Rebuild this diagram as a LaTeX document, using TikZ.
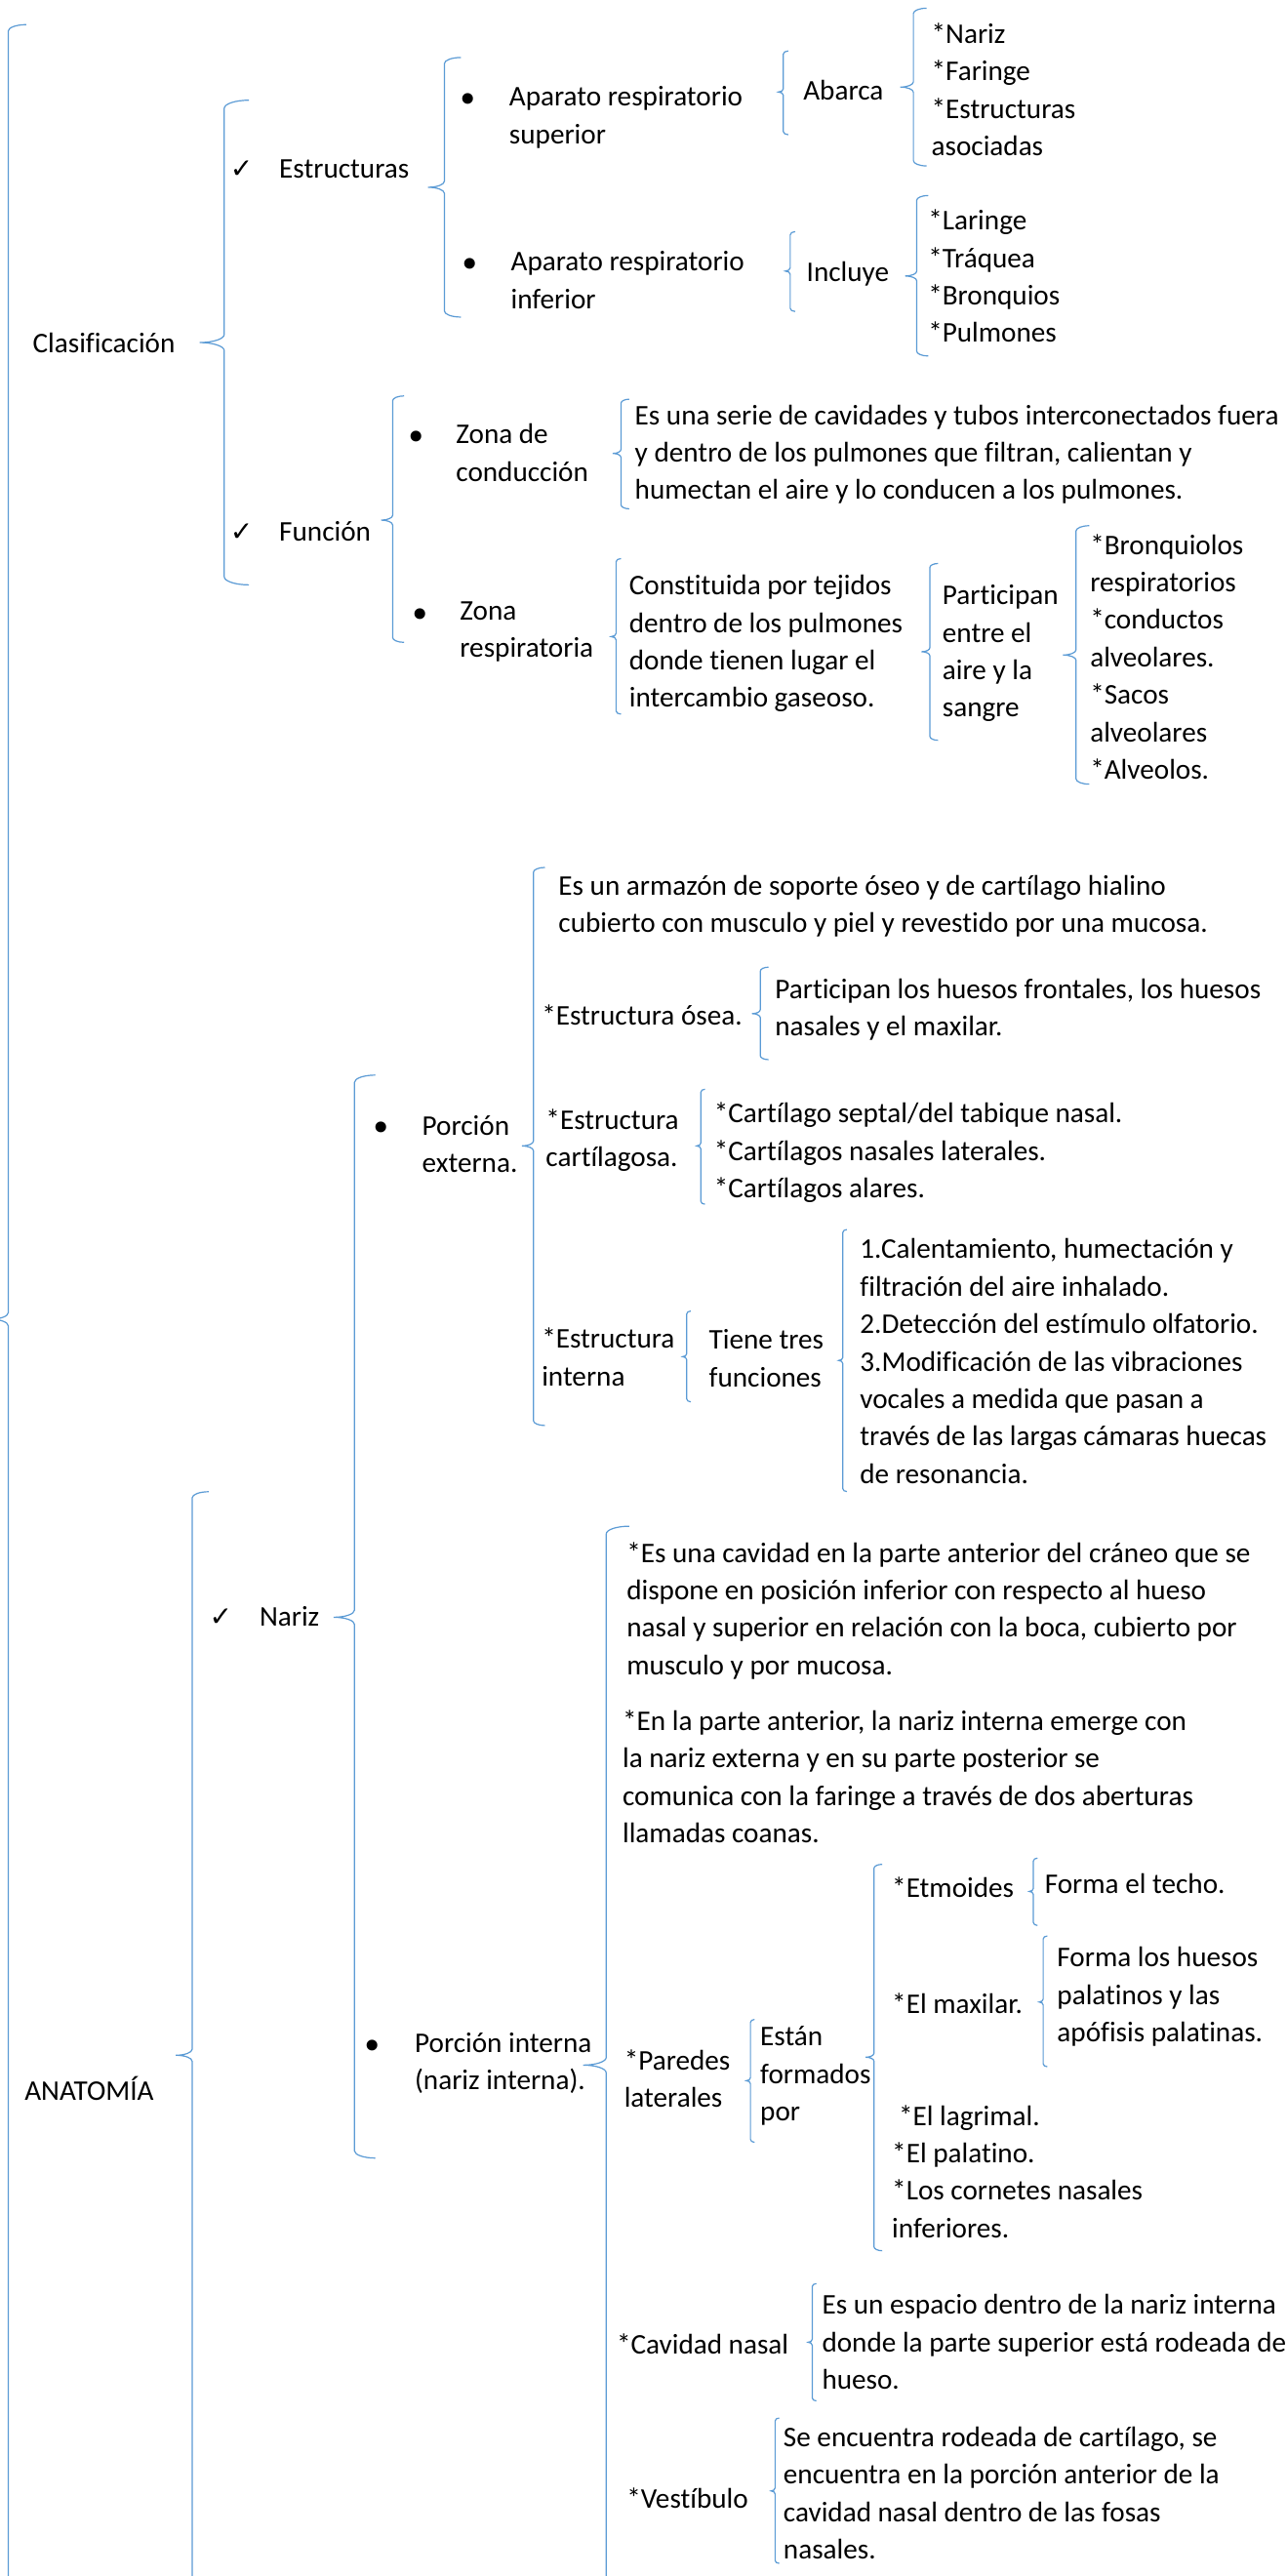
\documentclass[tikz,border=0pt]{standalone}
\usepackage{fontspec}
\setmainfont{Carlito}[Ligatures={NoCommon}]
\newfontfamily\symfont{DejaVu Sans}
\definecolor{bracecol}{RGB}{91,155,213}
\tikzset{
  x=0.84225pt, y=-0.84225pt,
  txt/.style={anchor=north west, inner sep=0pt, outer sep=0pt, align=left, yshift=10pt,
    font=\fontsize{14.6pt}{19.2pt}\selectfont, execute at begin node={\rule{0pt}{12pt}}},
  bul/.style={anchor=base, inner sep=0pt, yshift=-3.5pt, font=\symfont\fontsize{19pt}{19.2pt}\selectfont},
  chk/.style={anchor=base, inner sep=0pt, yshift=-2pt, font=\symfont\fontsize{14pt}{19.2pt}\selectfont},
  brace line/.style={draw=bracecol, line width=0.6pt}
}
% #1 tip name, #2 x of vertical line, #3 top, #4 tip y, #5 bottom, #6 hook width
\newcommand\drawbrace[6]{%
  \pgfmathsetmacro\brv{0.25*#6+1.2}%
  \draw[brace line] (#2+#6,#3) .. controls (#2+0.45*#6,#3) and (#2,#3+0.45*\brv) .. (#2,#3+\brv)
    -- (#2,#4-\brv) .. controls (#2,#4-0.45*\brv) and (#2-0.45*#6,#4) .. (#2-#6,#4) coordinate (#1)
    .. controls (#2-0.45*#6,#4) and (#2,#4+0.45*\brv) .. (#2,#4+\brv)
    -- (#2,#5-\brv) .. controls (#2,#5-0.45*\brv) and (#2+0.45*#6,#5) .. (#2+#6,#5);
}
\begin{document}
\begin{tikzpicture}
\useasboundingbox[fill=white] (0,0) rectangle (783,1568);

% ---------- braces ----------
\drawbrace{brRoot}{5}{15}{803}{1591}{11}
\drawbrace{brClas}{136.5}{61}{208.5}{356}{15}
\drawbrace{brAnat}{117}{908}{1251}{1594}{10}
\drawbrace{brEstr}{270.5}{35}{114}{193}{10}
\drawbrace{brFunc}{239}{241}{316.6}{391}{7}
\drawbrace{brAbarca}{476.8}{31}{56}{82}{3}
\drawbrace{brSup}{556}{5}{53}{101}{8}
\drawbrace{brIncluye}{481}{141}{165}{189.6}{3}
\drawbrace{brInf}{558}{119}{168}{216.7}{7}
\drawbrace{brZC}{378}{243}{276}{309.7}{5}
\drawbrace{brZR}{375}{340}{387.5}{434.7}{3}
\drawbrace{brPart}{566}{343}{396.7}{450.6}{5}
\drawbrace{brZRitems}{655}{320}{398.7}{477.3}{8}
\drawbrace{brNariz}{215.8}{654.4}{984.4}{1313.6}{12.7}
\drawbrace{brPE}{324.7}{528}{697.5}{867.7}{7}
\drawbrace{brOsea}{462.8}{588.7}{617}{645}{5}
\drawbrace{brCart}{426.6}{663}{697.5}{733}{2.5}
\drawbrace{brInt}{418}{798}{825.8}{853.3}{2.5}
\drawbrace{brTiene}{513}{748.4}{828.1}{907.9}{2.5}
\drawbrace{brPI}{369}{929}{1257}{1585}{14}
\drawbrace{brPar}{456.8}{1229.2}{1266.5}{1304}{2.5}
\drawbrace{brEstan}{532}{1134.8}{1252.2}{1370}{5}
\drawbrace{brEtm}{629}{1131}{1151.3}{1172}{2.5}
\drawbrace{brMax}{635}{1178.4}{1218.6}{1258}{2.5}
\drawbrace{brCav}{494.4}{1390}{1425.7}{1461.4}{2.5}
\drawbrace{brVest}{471.8}{1471.8}{1516.2}{1560.3}{2.5}

% ---------- level 1 ----------
\node[txt] (clas) at (20,212.5) {Clasificación};
\node[txt] (anat) at (15,1276) {ANATOMÍA};

% ---------- Clasificación ----------
\node[chk] (chkE) at (147,106) {✓};
\node[txt] (estr) at (170,106) {Estructuras};
\node[chk] (chkF) at (147,327) {✓};
\node[txt] (func) at (170,327) {Función};

\node[bul] (bAS) at (285,64.5) {•};
\node[txt] (aps) at (310,64.5) {Aparato respiratorio\\superior};
\node[txt] (abarca) at (489,58.5) {Abarca};
\node[txt] (itemsS) at (567,26) {*Nariz\\*Faringe\\*Estructuras\\asociadas};

\node[bul] (bAI) at (286,165) {•};
\node[txt] (api) at (311,165) {Aparato respiratorio\\inferior};
\node[txt] (incluye) at (491,169) {Incluye};
\node[txt] (itemsI) at (565,139.6) {*Laringe\\*Tráquea\\*Bronquios\\*Pulmones};

\node[bul] (bZC) at (253.5,270) {•};
\node[txt] (zc) at (277.6,270) {Zona de\\conducción};
\node[txt] (zcdef) at (386.5,258.3) {Es una serie de cavidades y tubos interconectados fuera\\y dentro de los pulmones que filtran, calientan y\\humectan el aire y lo conducen a los pulmones.};

\node[bul] (bZR) at (256,378) {•};
\node[txt] (zr) at (280,378) {Zona\\respiratoria};
\node[txt] (zrdef) at (383,362) {Constituida por tejidos\\dentro de los pulmones\\donde tienen lugar el\\intercambio gaseoso.};
\node[txt] (particip) at (573.7,368) {Participan\\entre el\\aire y la\\sangre};
\node[txt] (zritems) at (663.6,337) {*Bronquiolos\\respiratorios\\*conductos\\alveolares.\\*Sacos\\alveolares\\*Alveolos.};

% ---------- ANATOMÍA ----------
\node[chk] (chkN) at (134.5,987.5) {✓};
\node[txt] (nariz) at (158,987.5) {Nariz};

\node[bul] (bPE) at (232,690.7) {•};
\node[txt] (pe) at (257,690.7) {Porción\\externa.};
\node[txt] (pedef) at (340,544.8) {Es un armazón de soporte óseo y de cartílago hialino\\cubierto con musculo y piel y revestido por una mucosa.};
\node[txt] (eosea) at (329.8,621.4) {*Estructura ósea.};
\node[txt] (eoseadef) at (471.8,607.6) {Participan los huesos frontales, los huesos\\nasales y el maxilar.};
\node[txt] (ecart) at (332.3,687) {*Estructura\\cartílagosa.};
\node[txt] (ecartdef) at (434.7,683) {*Cartílago septal/del tabique nasal.\\*Cartílagos nasales laterales.\\*Cartílagos alares.};
\node[txt] (eint) at (329.8,820.3) {*Estructura\\interna};
\node[txt] (tiene) at (431.6,821.3) {Tiene tres\\funciones};
\node[txt] (funcs) at (523.5,766) {1.Calentamiento, humectación y\\filtración del aire inhalado.\\2.Detección del estímulo olfatorio.\\3.Modificación de las vibraciones\\vocales a medida que pasan a\\través de las largas cámaras huecas\\de resonancia.};

\node[bul] (bPI) at (227,1249.3) {•};
\node[txt] (pint) at (252.5,1249.3) {Porción interna\\(nariz interna).};
\node[txt] (pidef1) at (381.5,950.5) {*Es una cavidad en la parte anterior del cráneo que se\\dispone en posición inferior con respecto al hueso\\nasal y superior en relación con la boca, cubierto por\\musculo y por mucosa.};
\node[txt] (pidef2) at (379,1052.8) {*En la parte anterior, la nariz interna emerge con\\la nariz externa y en su parte posterior se\\comunica con la faringe a través de dos aberturas\\llamadas coanas.};
\node[txt] (paredes) at (380,1259.6) {*Paredes\\laterales};
\node[txt] (estan) at (462.8,1245.3) {Están\\formados\\por};
\node[txt] (etm) at (543,1152.3) {*Etmoides};
\node[txt] (etmdef) at (636,1150.3) {Forma el techo.};
\node[txt] (maxi) at (543,1223) {*El maxilar.};
\node[txt] (maxidef) at (643.5,1197.2) {Forma los huesos\\palatinos y las\\apófisis palatinas.};
\node[txt] (otros) at (543,1293.2) {\hspace{3.4pt}*El lagrimal.\\*El palatino.\\*Los cornetes nasales\\inferiores.};
\node[txt] (cavidad) at (375.4,1430.7) {*Cavidad nasal};
\node[txt] (cavdef) at (500.4,1408.6) {Es un espacio dentro de la nariz interna\\donde la parte superior está rodeada de\\hueso.};
\node[txt] (vest) at (381.5,1524.3) {*Vestíbulo};
\node[txt] (vestdef) at (476.9,1489.1) {Se encuentra rodeada de cartílago, se\\encuentra en la porción anterior de la\\cavidad nasal dentro de las fosas\\nasales.};
\end{tikzpicture}
\end{document}
